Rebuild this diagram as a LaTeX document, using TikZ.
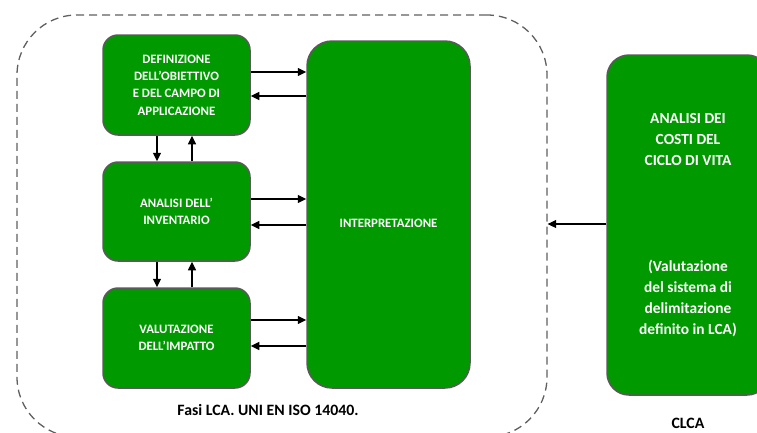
\documentclass[tikz,border=0pt]{standalone}
\usepackage{fontspec}
\setmainfont{Carlito}
\usetikzlibrary{arrows.meta}
\definecolor{boxgreen}{HTML}{009900}
\definecolor{boxborder}{HTML}{5A5A5A}
\definecolor{dashgray}{HTML}{606060}
\begin{document}
\begin{tikzpicture}[x=1pt,y=-1pt,
  box/.style={draw=boxborder, line width=1.5pt, fill=boxgreen, rounded corners=15pt,
    text=white, font=\bfseries\fontsize{12.8}{17.3}\selectfont, align=center, inner sep=0pt},
  bigbox/.style={box, rounded corners=25pt},
  frame/.style={draw=dashgray, line width=1.3pt, dash pattern=on 8pt off 5pt,
    rounded corners=60pt, inner sep=0pt},
  arr/.style={-{Triangle[length=8.5pt,width=8pt]}, line width=1.3pt},
  caption/.style={font=\bfseries\fontsize{15.8}{18}\selectfont, inner sep=0pt},
]
\useasboundingbox (0,0) rectangle (757,432);
\node[frame, minimum width=530pt, minimum height=422pt] (lca) at (282,226) {};
\node[box, minimum width=147pt, minimum height=100pt] (b1) at (176.5,85)
  {DEFINIZIONE\\DELL'OBIETTIVO\\E DEL CAMPO DI\\APPLICAZIONE};
\node[box, minimum width=147pt, minimum height=99pt] (b2) at (176.5,211.5)
  {ANALISI DELL'\\INVENTARIO};
\node[box, minimum width=147pt, minimum height=100pt] (b3) at (176.5,338)
  {VALUTAZIONE\\DELL'IMPATTO};
\node[bigbox, minimum width=163pt, minimum height=347pt] (int) at (388.5,214.5) {};
\node[text=white, font=\bfseries\fontsize{12.8}{17}\selectfont, inner sep=0pt] (intlab)
  at (388.5,223) {INTERPRETAZIONE};
\node[box, rounded corners=22pt, minimum width=162pt, minimum height=340pt,
  font=\bfseries\fontsize{15.4}{21}\selectfont] (clca) at (688,225)
  {ANALISI DEI\\COSTI DEL\\CICLO DI VITA\\[85pt](Valutazione\\del sistema di\\delimitazione\\definito in LCA)};
\node[caption] (cap1) at (268,410) {Fasi LCA. UNI EN ISO 14040.};
\node[caption] (cap2) at (688,423) {CLCA};
% horizontal arrows
\draw[arr] ([yshift=13pt]b1.east) -- ([yshift=13pt]b1.east -| int.west);
\draw[arr] ([yshift=-11pt]b1.east -| int.west) -- ([yshift=-11pt]b1.east);
\draw[arr] ([yshift=12.5pt]b2.east) -- ([yshift=12.5pt]b2.east -| int.west);
\draw[arr] ([yshift=-13.5pt]b2.east -| int.west) -- ([yshift=-13.5pt]b2.east);
\draw[arr] ([yshift=18pt]b3.east) -- ([yshift=18pt]b3.east -| int.west);
\draw[arr] ([yshift=-8pt]b3.east -| int.west) -- ([yshift=-8pt]b3.east);
% vertical arrows
\draw[arr] ([xshift=-19.5pt]b1.south) -- ([xshift=-19.5pt]b1.south |- b2.north);
\draw[arr] ([xshift=15.5pt]b2.north) -- ([xshift=15.5pt]b2.north |- b1.south);
\draw[arr] ([xshift=-19.5pt]b2.south) -- ([xshift=-19.5pt]b2.south |- b3.north);
\draw[arr] ([xshift=15.5pt]b3.north) -- ([xshift=15.5pt]b3.north |- b2.south);
% CLCA to LCA frame
\draw[arr] ([yshift=1pt]clca.west) -- ([yshift=1pt]clca.west -| lca.east);
\end{tikzpicture}
\end{document}
